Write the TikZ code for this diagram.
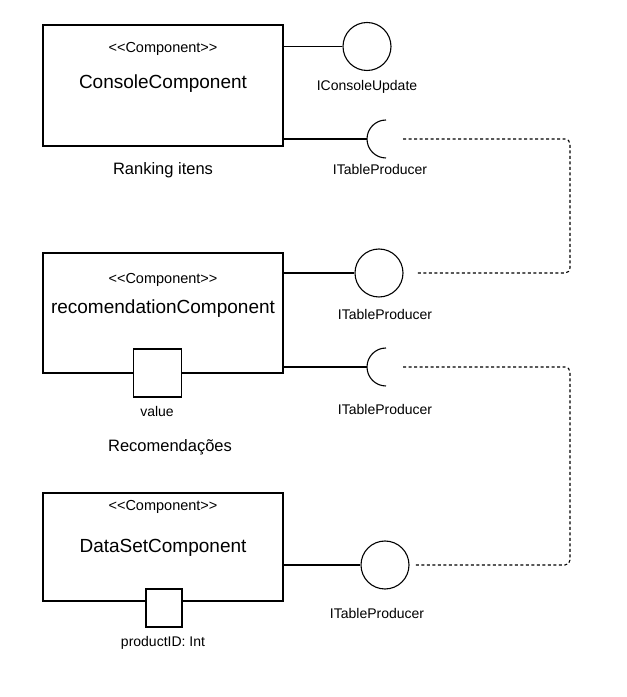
\documentclass[tikz,border=0pt]{standalone}
\usepackage{fontspec}
\setmainfont{Liberation Sans}
\newcommand{\stereotxt}{<\kern0pt<Component>\kern0pt>}
\begin{document}
\begin{tikzpicture}[x=1pt,y=1pt,line width=1.1pt,
  comp/.style={draw,minimum width=240pt,inner sep=0pt},
  iface/.style={draw,circle,minimum size=48pt,inner sep=0pt},
  port/.style={draw,fill=white,inner sep=0pt},
  stereo/.style={font=\fontsize{14.5}{16}\selectfont,inner sep=0pt},
  cname/.style={font=\fontsize{19}{22}\selectfont,inner sep=0pt},
  lbl/.style={font=\fontsize{14}{16}\selectfont,inner sep=0pt},
  note/.style={font=\fontsize{16.5}{19}\selectfont,inner sep=0pt},
  dep/.style={line width=1.1pt,dash pattern=on 3pt off 2.5pt,rounded corners=5pt}]
\useasboundingbox (0,0) rectangle (627,697);

% ---- ConsoleComponent
\node[comp,minimum height=121pt] (b1) at (163,611.5) {};
\node[stereo] (st1) at (163,648) {\stereotxt};
\node[cname] (n1) at (163,613) {ConsoleComponent};
\node[iface] (c1) at (367,650.5) {};
\node[lbl] (l1) at (367,610) {IConsoleUpdate};
\coordinate (s1) at (386,558);
\node[lbl] (l2) at (380,527) {ITableProducer};
\node[note] (t1) at (163,527) {Ranking itens};
\draw (c1.west -| b1.east) -- (c1.west);
\draw (s1 -| b1.east) -- ([xshift=-19pt]s1);
\draw ([yshift=19pt]s1) arc[start angle=90,end angle=270,radius=19pt];

% ---- recomendationComponent
\node[comp,minimum height=120pt] (b2) at (163,384) {};
\node[stereo] (st2) at (163,417) {\stereotxt};
\node[cname] (n2) at (163,388) {recomendationComponent};
\node[iface] (c2) at (379,424) {};
\node[lbl] (l3) at (385,383) {ITableProducer};
\node[port,minimum width=48pt,minimum height=48pt] (p2) at (157.5,324) {};
\node[lbl] (v2) at (157,286) {value};
\coordinate (s2) at (386,330);
\node[lbl] (l4) at (385,288) {ITableProducer};
\node[note] (t2) at (170,250) {Recomendações};
\draw (c2.west -| b2.east) -- (c2.west);
\draw (s2 -| b2.east) -- ([xshift=-19pt]s2);
\draw ([yshift=19pt]s2) arc[start angle=90,end angle=270,radius=19pt];

% ---- DataSetComponent
\node[comp,minimum height=108pt] (b3) at (163,150) {};
\node[stereo] (st3) at (163,190) {\stereotxt};
\node[cname] (n3) at (163,149) {DataSetComponent};
\node[iface] (c3) at (385,132) {};
\node[lbl] (l5) at (377,84) {ITableProducer};
\node[port,minimum width=36pt,minimum height=38pt] (p3) at (164,89) {};
\node[lbl] (v3) at (163,54) {productID: Int};
\draw (c3.west -| b3.east) -- (c3.west);

% ---- dependencies
\coordinate (r1) at (570,480);
\coordinate (r2) at (570,230);
\draw[dep] ([xshift=17pt]s1) -| (r1) |- ([xshift=12pt]c2.east);
\draw[dep] ([xshift=17pt]s2) -| (r2) |- ([xshift=6pt]c3.east);
\end{tikzpicture}
\end{document}
